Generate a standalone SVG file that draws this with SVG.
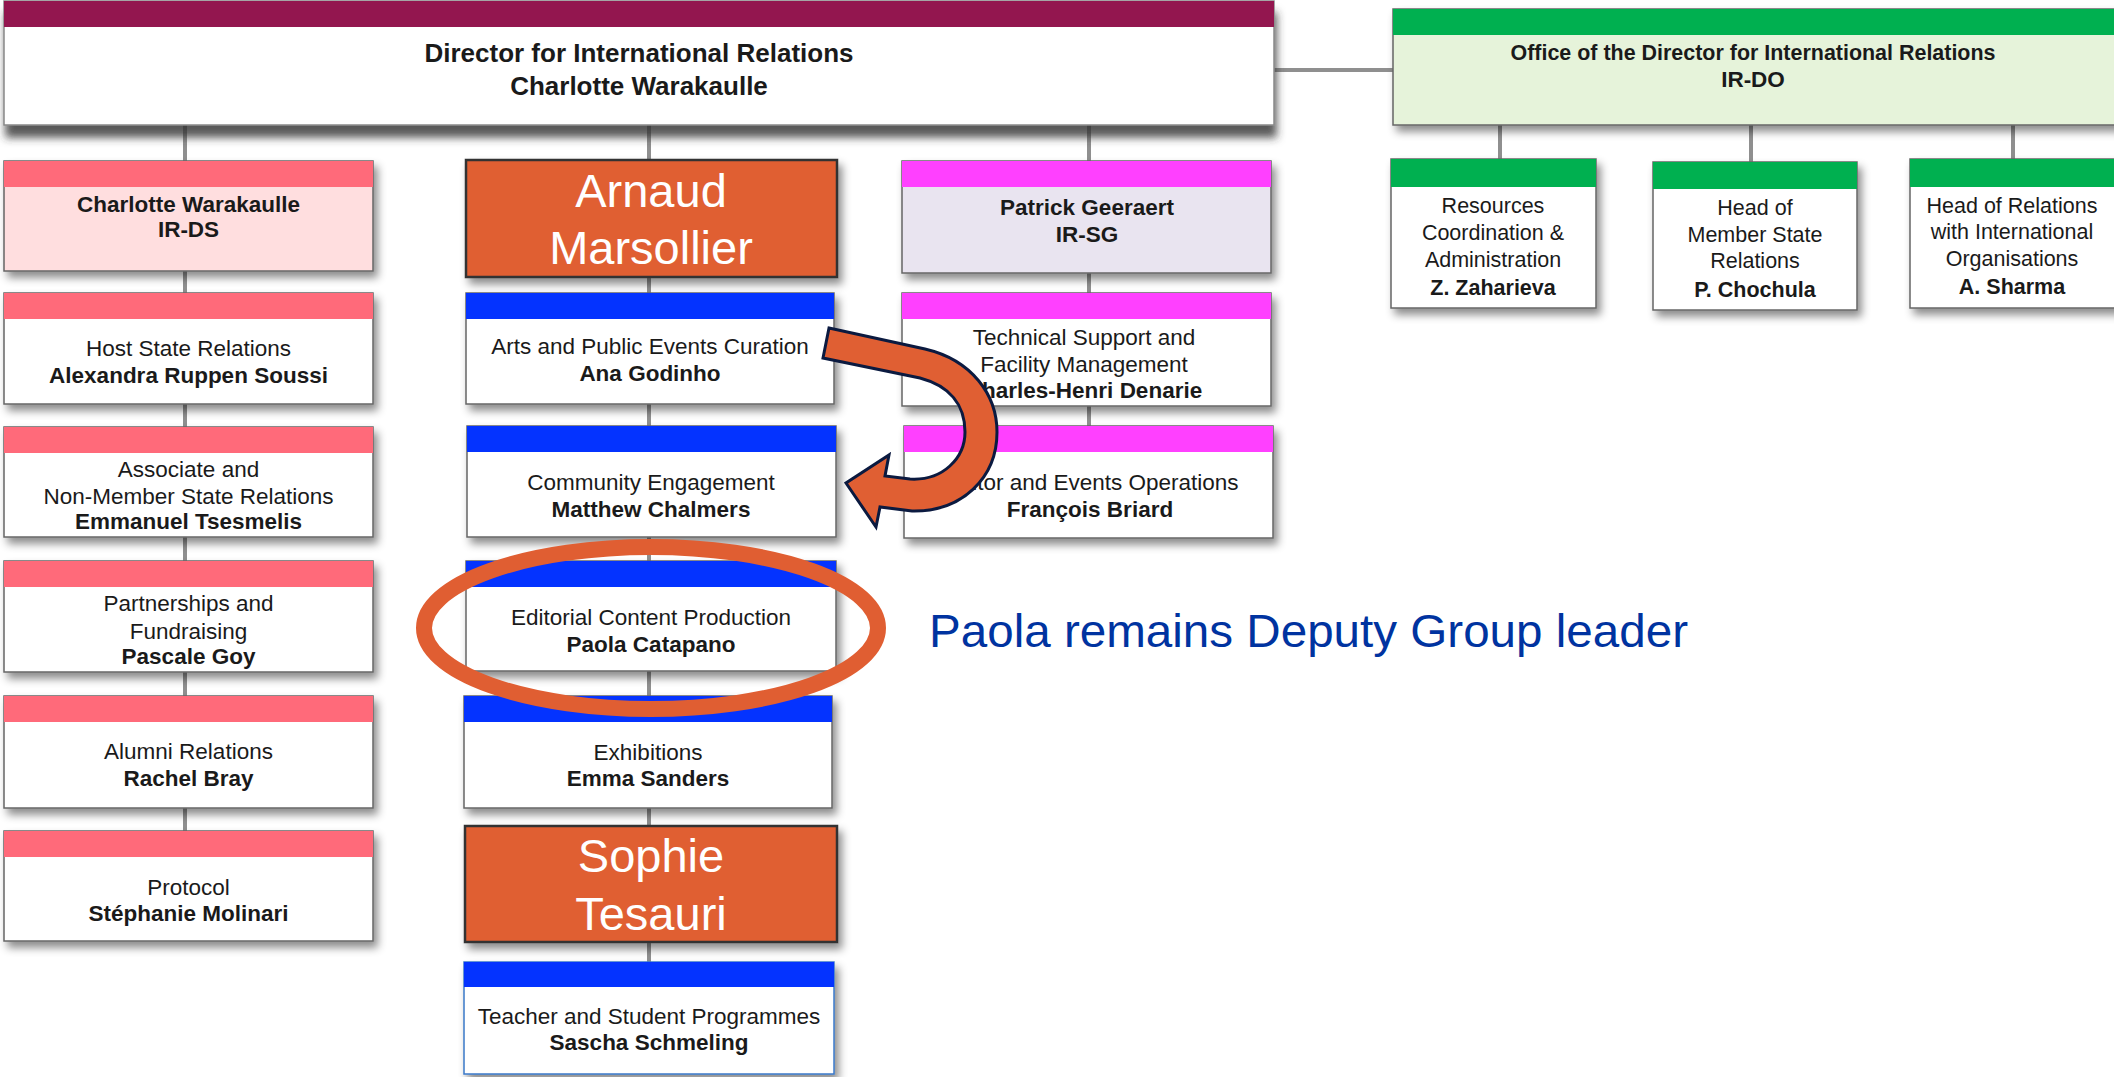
<svg xmlns="http://www.w3.org/2000/svg" width="2114" height="1077" viewBox="0 0 2114 1077">
<defs>
<filter id="sh" x="-10%" y="-10%" width="125%" height="140%"><feDropShadow dx="4" dy="6" stdDeviation="4" flood-color="#000" flood-opacity="0.45"/></filter>
<filter id="shL" x="-5%" y="-10%" width="110%" height="150%"><feDropShadow dx="2" dy="12" stdDeviation="4.5" flood-color="#333" flood-opacity="0.8"/></filter>
</defs>
<style>
.box{fill:#fff;stroke:#666;stroke-width:1.5;filter:url(#sh)}
.hdr{fill:#fff;stroke:#888;stroke-width:1.5;filter:url(#shL)}
.org{fill:#E05F33;stroke:#333;stroke-width:2.5;filter:url(#sh)}
.pink{fill:#FF6A7A}
.blue{fill:#0433FF}
.mag{fill:#FF40FF}
.green{fill:#00B050}
.maroon{fill:#93164F}
.t{font-family:"Liberation Sans",Arial,sans-serif;font-size:22.5px;fill:#1a1a1a;text-anchor:middle}
.s{font-size:21.5px}
.b{font-weight:bold}
.big{font-family:"Liberation Sans",Arial,sans-serif;font-size:47px;fill:#fff;text-anchor:middle}
.con{stroke:#8f8f8f;stroke-width:4;fill:none}
</style>
<rect width="2114" height="1077" fill="#fff"/>
<g id="connectors">
<path class="con" d="M1274 70H1393"/>
<path class="con" d="M185 125V831"/>
<path class="con" d="M649 125V962"/>
<path class="con" d="M1089 125V426"/>
<path class="con" d="M1500 125V159M1751 125V162M2013 125V159"/>
</g>
<g id="n-director">
<rect class="hdr" x="4" y="1" width="1270" height="124"/>
<rect class="maroon" x="4" y="1" width="1270" height="26"/>
<text class="t b" x="639" y="62" style="font-size:26px">Director for International Relations</text>
<text class="t b" x="639" y="95" style="font-size:26px">Charlotte Warakaulle</text>
</g>
<g id="n-office">
<rect class="box" x="1393" y="9" width="730" height="116" style="fill:#E6F3DA"/>
<rect class="green" x="1393" y="9" width="730" height="26"/>
<text class="t b" x="1753" y="60" textLength="485" lengthAdjust="spacingAndGlyphs">Office of the Director for International Relations</text>
<text class="t b" x="1753" y="87">IR-DO</text>
</g>
<g id="n-resources">
<rect class="box" x="1391" y="159" width="205" height="149"/>
<rect class="green" x="1391" y="159" width="205" height="28"/>
<text class="t s" x="1493" y="213">Resources</text>
<text class="t s" x="1493" y="240">Coordination &amp;</text>
<text class="t s" x="1493" y="267">Administration</text>
<text class="t s b" x="1493" y="295">Z. Zaharieva</text>
</g>
<g id="n-member">
<rect class="box" x="1653" y="162" width="204" height="148"/>
<rect class="green" x="1653" y="162" width="204" height="27"/>
<text class="t s" x="1755" y="215">Head of</text>
<text class="t s" x="1755" y="242">Member State</text>
<text class="t s" x="1755" y="268">Relations</text>
<text class="t s b" x="1755" y="297">P. Chochula</text>
</g>
<g id="n-intorg">
<rect class="box" x="1910" y="159" width="210" height="149"/>
<rect class="green" x="1910" y="159" width="210" height="28"/>
<text class="t s" x="2012" y="213">Head of Relations</text>
<text class="t s" x="2012" y="239">with International</text>
<text class="t s" x="2012" y="266">Organisations</text>
<text class="t s b" x="2012" y="294">A. Sharma</text>
</g>
<g id="n-irds">
<rect class="box" x="4" y="161" width="369" height="110" style="fill:#FFDEDF"/>
<rect class="pink" x="4" y="161" width="369" height="26"/>
<text class="t b" x="188.5" y="212">Charlotte Warakaulle</text>
<text class="t b" x="188.5" y="237">IR-DS</text>
</g>
<g id="n-host">
<rect class="box" x="4" y="293" width="369" height="111"/>
<rect class="pink" x="4" y="293" width="369" height="26"/>
<text class="t" x="188.5" y="356">Host State Relations</text>
<text class="t b" x="188.5" y="383">Alexandra Ruppen Soussi</text>
</g>
<g id="n-associate">
<rect class="box" x="4" y="427" width="369" height="110"/>
<rect class="pink" x="4" y="427" width="369" height="26"/>
<text class="t" x="188.5" y="477">Associate and</text>
<text class="t" x="188.5" y="504">Non-Member State Relations</text>
<text class="t b" x="188.5" y="529">Emmanuel Tsesmelis</text>
</g>
<g id="n-partnerships">
<rect class="box" x="4" y="561" width="369" height="111"/>
<rect class="pink" x="4" y="561" width="369" height="26"/>
<text class="t" x="188.5" y="611">Partnerships and</text>
<text class="t" x="188.5" y="639">Fundraising</text>
<text class="t b" x="188.5" y="664">Pascale Goy</text>
</g>
<g id="n-alumni">
<rect class="box" x="4" y="696" width="369" height="112"/>
<rect class="pink" x="4" y="696" width="369" height="26"/>
<text class="t" x="188.5" y="759">Alumni Relations</text>
<text class="t b" x="188.5" y="786">Rachel Bray</text>
</g>
<g id="n-protocol">
<rect class="box" x="4" y="831" width="369" height="110"/>
<rect class="pink" x="4" y="831" width="369" height="26"/>
<text class="t" x="188.5" y="895">Protocol</text>
<text class="t b" x="188.5" y="921">Stéphanie Molinari</text>
</g>
<g id="n-arnaud">
<rect class="org" x="466" y="160" width="371" height="117"/>
<text class="big" x="651" y="207">Arnaud</text>
<text class="big" x="651" y="264">Marsollier</text>
</g>
<g id="n-arts">
<rect class="box" x="466" y="293" width="368" height="111"/>
<rect class="blue" x="466" y="293" width="368" height="26"/>
<text class="t" x="650" y="354">Arts and Public Events Curation</text>
<text class="t b" x="650" y="381">Ana Godinho</text>
</g>
<g id="n-community">
<rect class="box" x="467" y="426" width="369" height="111"/>
<rect class="blue" x="467" y="426" width="369" height="26"/>
<text class="t" x="651" y="490">Community Engagement</text>
<text class="t b" x="651" y="517">Matthew Chalmers</text>
</g>
<g id="n-editorial">
<rect class="box" x="466" y="561" width="370" height="110"/>
<rect class="blue" x="466" y="561" width="370" height="26"/>
<text class="t" x="651" y="625">Editorial Content Production</text>
<text class="t b" x="651" y="652">Paola Catapano</text>
</g>
<g id="n-exhibitions">
<rect class="box" x="464" y="696" width="368" height="112"/>
<rect class="blue" x="464" y="696" width="368" height="26"/>
<text class="t" x="648" y="760">Exhibitions</text>
<text class="t b" x="648" y="786">Emma Sanders</text>
</g>
<g id="n-sophie">
<rect class="org" x="465" y="826" width="372" height="116"/>
<text class="big" x="651" y="872">Sophie</text>
<text class="big" x="651" y="930">Tesauri</text>
</g>
<g id="n-teacher">
<rect class="box" x="464" y="962" width="370" height="112" style="stroke:#3b78c8"/>
<rect class="blue" x="464" y="962" width="370" height="25"/>
<text class="t" x="649" y="1024">Teacher and Student Programmes</text>
<text class="t b" x="649" y="1050">Sascha Schmeling</text>
</g>
<g id="n-irsg">
<rect class="box" x="902" y="161" width="369" height="112" style="fill:#E9E4F0"/>
<rect class="mag" x="902" y="161" width="369" height="26"/>
<text class="t b" x="1087" y="215">Patrick Geeraert</text>
<text class="t b" x="1087" y="242">IR-SG</text>
</g>
<g id="n-technical">
<rect class="box" x="902" y="293" width="369" height="113"/>
<rect class="mag" x="902" y="293" width="369" height="26"/>
<text class="t" x="1084" y="345">Technical Support and</text>
<text class="t" x="1084" y="372">Facility Management</text>
<text class="t b" x="1084" y="398">Charles-Henri Denarie</text>
</g>
<g id="n-visitor">
<rect class="box" x="904" y="426" width="369" height="112"/>
<rect class="mag" x="904" y="426" width="369" height="26"/>
<text class="t" x="1090" y="490">Visitor and Events Operations</text>
<text class="t b" x="1090" y="517">François Briard</text>
</g>
<g id="annotations">
<ellipse cx="651" cy="628" rx="227" ry="81" fill="none" stroke="#E05E32" stroke-width="16"/>
<path d="M829 328L925 349C972 360 997 395 997 432C997 478 962 512 912 511L880 507L876 527L846 483L889 455L885 476L910 479C943 481 965 458 965 432C965 405 950 386 920 378L823 358Z" fill="#E05F33" stroke="#0B1A40" stroke-width="3" stroke-linejoin="miter"/>
<text x="929" y="647" textLength="759" lengthAdjust="spacingAndGlyphs" style="font-family:'Liberation Sans',Arial,sans-serif;font-size:46px;fill:#0033A0">Paola remains Deputy Group leader</text>
</g>
</svg>
